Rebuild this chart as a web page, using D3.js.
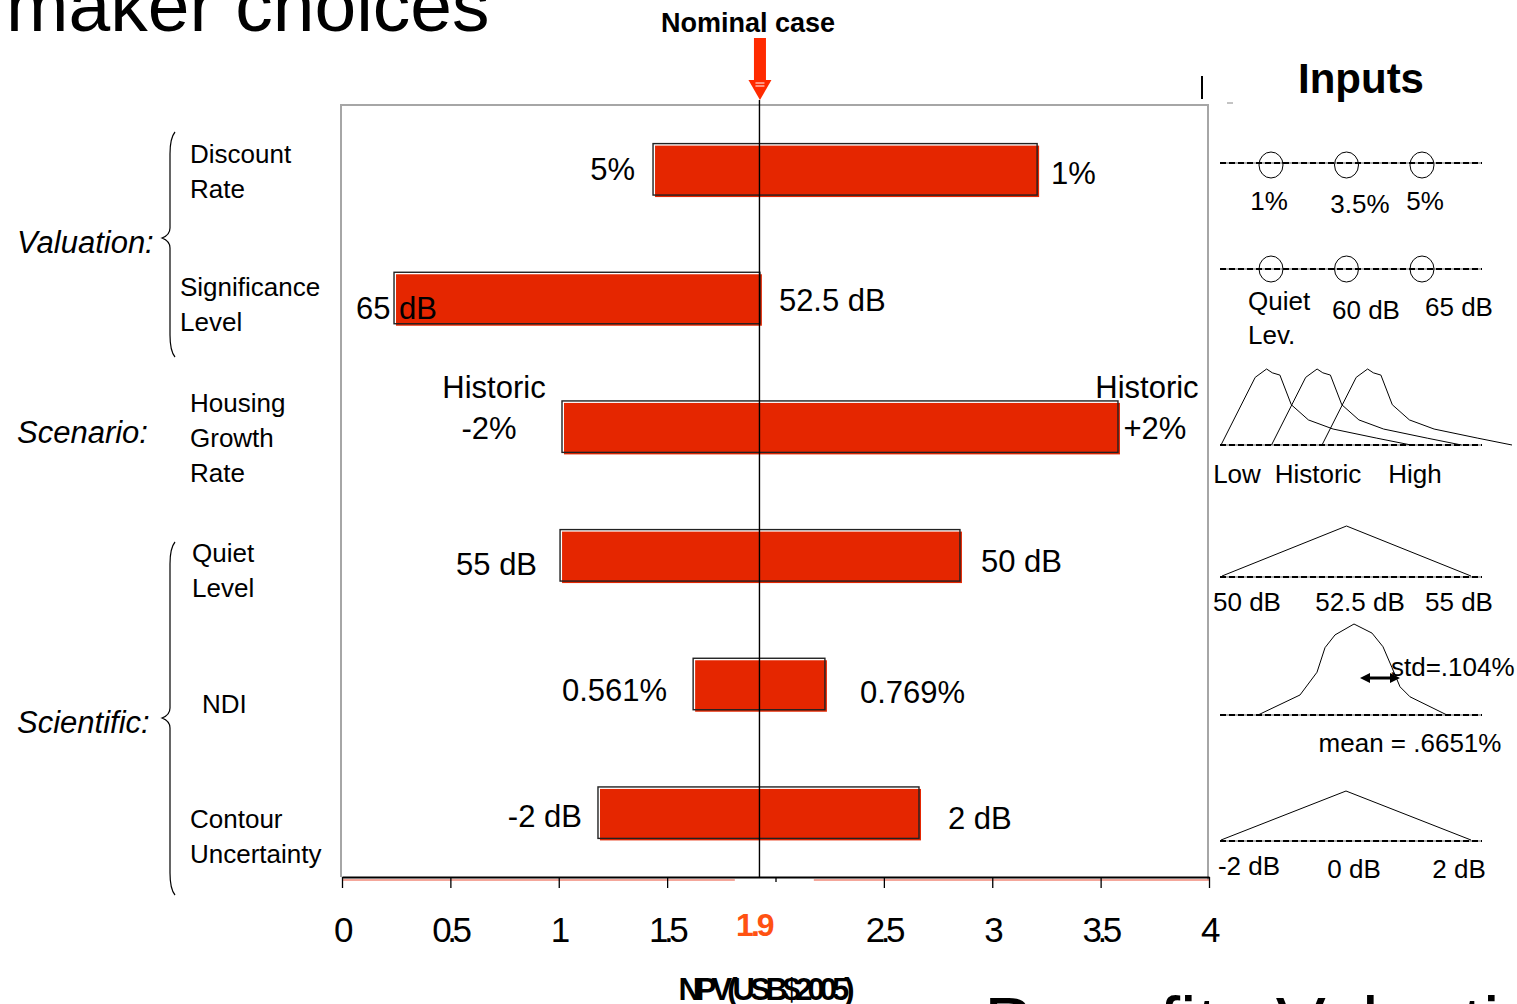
<!DOCTYPE html>
<html>
<head>
<meta charset="utf-8">
<script src="https://cdn.jsdelivr.net/npm/d3@7"></script>
<style>
  html, body { margin: 0; padding: 0; background: #fff; overflow: hidden; }
  svg { display: block; font-family: "Liberation Sans", Arial, Helvetica, sans-serif; }
</style>
</head>
<body>
<svg id="chart" width="1517" height="1004"></svg>
<script>
// ---------------- DATA ----------------
const categories = ["Discount Rate", "Significance Level", "Housing Growth Rate", "Quiet Level", "NDI", "Contour Uncertainty"];
const categoryLines = [["Discount", "Rate"], ["Significance", "Level"], ["Housing", "Growth", "Rate"], ["Quiet", "Level"], ["NDI"], ["Contour", "Uncertainty"]];
const groups = ["Valuation:", "Scenario:", "Scientific:"];
const groupMembers = [[0, 1], [2], [3, 4, 5]];
const lowValues  = [1.435, 0.240, 1.015, 1.006, 1.620, 1.181];
const highValues = [3.207, 1.928, 3.580, 2.851, 2.228, 2.662];
const lowLabels  = [["5%"], ["65 dB"], ["Historic", "-2%"], ["55 dB"], ["0.561%"], ["-2 dB"]];
const highLabels = [["1%"], ["52.5 dB"], ["Historic", "+2%"], ["50 dB"], ["0.769%"], ["2 dB"]];
const nominalValue = 1.926;
const nominalLabel = "1.9";
const nominalTick = 1.9;
const tickValues = [0, 0.5, 1, 1.5, 2, 2.5, 3, 3.5, 4];
const tickLabels = ["0", "0.5", "1", "1.5", "", "2.5", "3", "3.5", "4"];
const xTitle = "NPV(USB$2005)";

// Inputs panel
const discountInputs = ["1%", "3.5%", "5%"];
const significanceInputs = [["Quiet", "Lev."], ["60 dB"], ["65 dB"]];
const housingInputs = ["Low", "Historic", "High"];
// skewed density shape (fraction of support, relative density)
const housingDensity = [[0, 0], [0.18, 0.89], [0.24, 1], [0.27, 0.95], [0.31, 0.92], [0.37, 0.53], [0.46, 0.33], [0.59, 0.21], [0.82, 0.09], [1, 0]];
const quietInputs = [50, 52.5, 55];
const quietLabels = ["50 dB", "52.5 dB", "55 dB"];
const ndiMean = 0.6651, ndiStd = 0.104;
const ndiDensity = [[0.4155, 0], [0.5247, 0.22], [0.5689, 0.47], [0.5897, 0.74], [0.6157, 0.88], [0.6651, 1], [0.7119, 0.90], [0.7405, 0.75], [0.7639, 0.52], [0.7847, 0.31], [0.8107, 0.20], [0.9069, 0]];
const contourInputs = [-2, 0, 2];
const contourLabels = ["-2 dB", "0 dB", "2 dB"];

// ---------------- LAYOUT CONSTANTS ----------------
const FONT = '"Liberation Sans", Arial, Helvetica, sans-serif';
const BAR = "#e52600";
const ARROW = "#ff2a00";
const lowGap  = [18, -38, 68, 23, 26, 16];   // px between bar start and its label
const highGap = [14, 19, 32, 21, 35, 29];    // px between bar end and its label
const lowDy   = [11, 21, -29, 20, 17, 14];
const highDy  = [15, 13, -29, 17, 19, 16];
const labelX  = [190, 180, 190, 192, 202, 190];
const braceGeom = [[132, 238, 357], null, [542, 718, 895]]; // top, tip, bottom (px)

// ---------------- DRAW ----------------
const svg = d3.select("#chart");
const plot = { left: 342, right: 1209, top: 105, bottom: 877 };
const x = d3.scaleLinear().domain([0, 4]).range([plot.left, plot.right]);
const y = d3.scaleBand().domain(categories).range([plot.top, plot.bottom]).paddingInner(0.6).paddingOuter(0.3);
const yLab = d3.scaleBand().domain(categories).range([105, 903]);

// Slide title fragments
svg.append("text").attr("x", 6).attr("y", 31).attr("font-size", 75).attr("fill", "#000").text("maker choices");
svg.append("text").attr("x", 984).attr("y", 1049).attr("font-size", 75).attr("fill", "#000").text("Benefits Valuation: Noise");

// frame
svg.append("path")
  .attr("d", `M${plot.left - 1},${plot.bottom} V${plot.top} H${plot.right - 1} V${plot.bottom + 3}`)
  .attr("fill", "none").attr("stroke", "#a6a6a6").attr("stroke-width", 2);

// thin red line under axis
svg.append("line").attr("x1", plot.left).attr("x2", x(nominalTick) - 19).attr("y1", plot.bottom + 3).attr("y2", plot.bottom + 3)
  .attr("stroke", "#f08a7a").attr("stroke-width", 1.5);
svg.append("line").attr("x1", x(nominalTick) + 60).attr("x2", plot.right).attr("y1", plot.bottom + 3).attr("y2", plot.bottom + 3)
  .attr("stroke", "#f08a7a").attr("stroke-width", 1.5);

// bars
const rows = categories.map((c, i) => ({ c, i, lo: lowValues[i], hi: highValues[i] }));
const barG = svg.append("g");
barG.selectAll("rect.fill").data(rows).join("rect")
  .attr("class", "fill")
  .attr("x", d => x(d.lo) + 2).attr("y", d => y(d.c) + 2)
  .attr("width", d => x(d.hi) - x(d.lo)).attr("height", y.bandwidth())
  .attr("fill", BAR);
barG.selectAll("rect.edge").data(rows).join("rect")
  .attr("class", "edge")
  .attr("x", d => x(d.lo)).attr("y", d => y(d.c))
  .attr("width", d => x(d.hi) - x(d.lo)).attr("height", y.bandwidth())
  .attr("fill", "none").attr("stroke", "#222").attr("stroke-width", 1.4);

// nominal line
svg.append("line").attr("x1", x(nominalValue)).attr("x2", x(nominalValue))
  .attr("y1", 100).attr("y2", plot.bottom).attr("stroke", "#000").attr("stroke-width", 1.4);

// bar end labels
const LBL = 31;
rows.forEach(d => {
  const cy = y(d.c) + y.bandwidth() / 2;
  const lo = lowLabels[d.i], hi = highLabels[d.i];
  if (lo.length > 1) {
    lo.forEach((t, k) => svg.append("text").attr("x", x(d.lo) - lowGap[d.i] + (k ? -5 : 0)).attr("y", cy + lowDy[d.i] + k * 41)
      .attr("text-anchor", "middle").attr("font-size", LBL).text(t));
    hi.forEach((t, k) => svg.append("text").attr("x", x(d.hi) + highGap[d.i] + (k ? 5 : -3)).attr("y", cy + highDy[d.i] + k * 41)
      .attr("text-anchor", "middle").attr("font-size", LBL).text(t));
  } else {
    const inside = lowGap[d.i] < 0;
    svg.append("text")
      .attr("x", x(d.lo) - Math.abs(lowGap[d.i]))
      .attr("y", cy + lowDy[d.i])
      .attr("text-anchor", inside ? "start" : "end")
      .attr("font-size", LBL).text(lo[0]);
    svg.append("text").attr("x", x(d.hi) + highGap[d.i]).attr("y", cy + highDy[d.i])
      .attr("text-anchor", "start").attr("font-size", LBL).text(hi[0]);
  }
});

// x axis
const axis = d3.axisBottom(x).tickValues(tickValues).tickSize(11).tickSizeOuter(0)
  .tickFormat((d, i) => tickLabels[i]);
const ax = svg.append("g").attr("transform", `translate(0,${plot.bottom})`).call(axis);
ax.select(".domain").attr("stroke", "#000").attr("stroke-width", 2);
ax.selectAll(".tick line").attr("stroke", "#000").attr("stroke-width", 1.3);
ax.selectAll(".tick").filter(d => d === 2).select("line").attr("y2", 5);
ax.selectAll(".tick text").attr("y", 65).attr("dy", null).attr("dx", -1)
  .attr("font-family", FONT).attr("font-size", 35).attr("fill", "#000")
  .attr("letter-spacing", "-4.5px");
svg.append("text").attr("x", x(nominalTick)).attr("y", 936).attr("text-anchor", "middle")
  .attr("font-size", 32).attr("font-weight", "bold").attr("fill", "#ff5212")
  .attr("letter-spacing", "-3px").text(nominalLabel);
svg.append("text").attr("x", 764).attr("y", 1000).attr("text-anchor", "middle")
  .attr("font-size", 31).attr("font-weight", "bold").attr("letter-spacing", "-5px").text(xTitle);

// Nominal case annotation
svg.append("text").attr("x", 748).attr("y", 32).attr("text-anchor", "middle")
  .attr("font-size", 27).attr("font-weight", "bold").text("Nominal case");
const ax0 = x(nominalValue);
svg.append("rect").attr("x", ax0 - 5.5).attr("y", 38).attr("width", 12).attr("height", 42).attr("fill", ARROW);
svg.append("path").attr("d", `M${ax0 - 11},80 L${ax0 + 12},80 L${ax0 + 0.5},100 Z`).attr("fill", ARROW);
svg.append("line").attr("x1", ax0 - 4).attr("x2", ax0 + 5).attr("y1", 83).attr("y2", 83).attr("stroke", "#fff").attr("stroke-width", 1);
svg.append("line").attr("x1", ax0 - 4).attr("x2", ax0 + 5).attr("y1", 86).attr("y2", 86).attr("stroke", "#fff").attr("stroke-width", 1);
svg.append("line").attr("x1", 1202).attr("x2", 1202).attr("y1", 76).attr("y2", 99).attr("stroke", "#000").attr("stroke-width", 2);
svg.append("line").attr("x1", 1227).attr("x2", 1233).attr("y1", 103).attr("y2", 103).attr("stroke", "#888").attr("stroke-width", 1);

// category labels
categories.forEach((c, i) => {
  const lines = categoryLines[i];
  const cy = yLab(c) + yLab.bandwidth() / 2;
  lines.forEach((t, k) => {
    svg.append("text").attr("x", labelX[i]).attr("y", cy - (lines.length - 1) * 35 / 2 + 9 + k * 35)
      .attr("font-size", 26).text(t);
  });
});

// group labels and braces
function brace(xl, yTop, yMid, yBot) {
  return `M${xl + 5},${yTop} Q${xl},${yTop + 6} ${xl},${yTop + 22} L${xl},${yMid - 10}` +
    ` Q${xl},${yMid - 3} ${xl - 8},${yMid} Q${xl},${yMid + 3} ${xl},${yMid + 10}` +
    ` L${xl},${yBot - 22} Q${xl},${yBot - 6} ${xl + 5},${yBot}`;
}
groups.forEach((g, gi) => {
  const mem = groupMembers[gi];
  const top = yLab(categories[mem[0]]);
  const bot = yLab(categories[mem[mem.length - 1]]) + yLab.bandwidth();
  let mid = (top + bot) / 2;
  const bg = braceGeom[gi];
  if (bg) {
    mid = bg[1];
    svg.append("path").attr("d", brace(170, bg[0], bg[1], bg[2])).attr("fill", "none").attr("stroke", "#000").attr("stroke-width", 1.2);
  }
  svg.append("text").attr("x", 17).attr("y", mid + (bg ? 15 : 5)).attr("font-size", 31).attr("font-style", "italic").text(g);
});

// ---------------- INPUTS PANEL ----------------
svg.append("text").attr("x", 1361).attr("y", 93).attr("text-anchor", "middle")
  .attr("font-size", 42).attr("font-weight", "bold").text("Inputs");

const IN = 26;
function baseline(yb) {
  svg.append("line").attr("x1", 1220).attr("x2", 1482).attr("y1", yb).attr("y2", yb).attr("stroke", "#9a9a9a").attr("stroke-width", 1.5);
  svg.append("line").attr("x1", 1220).attr("x2", 1482).attr("y1", yb).attr("y2", yb).attr("stroke", "#000")
    .attr("stroke-width", 2).attr("stroke-dasharray", "6,3");
}
// discount
const dPos = d3.scalePoint().domain(discountInputs).range([1271, 1422]);
const dLab = d3.scalePoint().domain(discountInputs).range([1269, 1425]);
baseline(163);
svg.selectAll("ellipse.d").data(discountInputs).join("ellipse").attr("class", "d")
  .attr("cx", d => dPos(d)).attr("cy", 165).attr("rx", 12).attr("ry", 13).attr("fill", "none").attr("stroke", "#000").attr("stroke-width", 1);
svg.selectAll("text.dl").data(discountInputs).join("text").attr("class", "dl")
  .attr("x", (d, i) => dLab(d) + (i === 1 ? 13 : 0)).attr("y", (d, i) => i === 1 ? 213 : 210).attr("text-anchor", "middle").attr("font-size", IN).text(d => d);
// significance
const sKeys = significanceInputs.map(d => d[0]);
const sPos = d3.scalePoint().domain(sKeys).range([1271, 1422]);
const sLab = d3.scalePoint().domain(sKeys).range([1279, 1459]);
baseline(269);
svg.selectAll("ellipse.s").data(sKeys).join("ellipse").attr("class", "s")
  .attr("cx", d => sPos(d)).attr("cy", 269).attr("rx", 12).attr("ry", 13).attr("fill", "none").attr("stroke", "#000").attr("stroke-width", 1);
significanceInputs.forEach((lines, i) => {
  lines.forEach((t, k) => {
    svg.append("text").attr("x", lines.length > 1 ? sLab(sKeys[i]) - 31 : sLab(sKeys[i]) - (i === 1 ? 3 : 0))
      .attr("y", lines.length > 1 ? 310 + k * 34 : (i === 1 ? 319 : 316))
      .attr("text-anchor", lines.length > 1 ? "start" : "middle").attr("font-size", IN).text(t);
  });
});
// housing
baseline(445);
const hStart = d3.scalePoint().domain(housingInputs).range([1221, 1322]);
const hx = d3.scaleLinear().domain([0, 1]).range([0, 190]);
const hy = d3.scaleLinear().domain([0, 1]).range([445, 369]);
housingInputs.forEach(h => {
  svg.append("path").attr("d", d3.line().x(p => hStart(h) + hx(p[0])).y(p => hy(p[1]))(housingDensity))
    .attr("fill", "none").attr("stroke", "#000").attr("stroke-width", 1);
});
const hLab = d3.scalePoint().domain(housingInputs).range([1237, 1415]);
svg.selectAll("text.hl").data(housingInputs).join("text").attr("class", "hl")
  .attr("x", (d, i) => hLab(d) - (i === 1 ? 8 : 0)).attr("y", 483).attr("text-anchor", "middle").attr("font-size", IN).text(d => d);
// quiet level (triangular)
baseline(577);
const qx = d3.scaleLinear().domain([50, 55]).range([1222, 1471]);
const qy = d3.scaleLinear().domain([0, 1]).range([576, 526]);
svg.append("path").attr("d", d3.line().x(p => qx(p[0])).y(p => qy(p[1]))([[50, 0], [52.5, 1], [55, 0]]))
  .attr("fill", "none").attr("stroke", "#000").attr("stroke-width", 1);
const qLab = d3.scalePoint().domain(quietLabels).range([1247, 1459]);
svg.selectAll("text.ql").data(quietLabels).join("text").attr("class", "ql")
  .attr("x", (d, i) => qLab(d) + (i === 1 ? 7 : 0)).attr("y", 611).attr("text-anchor", "middle").attr("font-size", IN).text(d => d);
// NDI (normal)
baseline(715);
const nx = d3.scaleLinear().domain([ndiMean, ndiMean + ndiStd]).range([1354, 1394]);
const ny = d3.scaleLinear().domain([0, 1]).range([715, 624]);
svg.append("path").attr("d", d3.line().x(p => nx(p[0])).y(p => ny(p[1]))(ndiDensity))
  .attr("fill", "none").attr("stroke", "#000").attr("stroke-width", 1);
const aL = nx(ndiMean) + 6, aR = nx(ndiMean + ndiStd) + 6, aY = 678;
svg.append("line").attr("x1", aL + 6).attr("x2", aR - 6).attr("y1", aY).attr("y2", aY).attr("stroke", "#000").attr("stroke-width", 3);
svg.append("path").attr("d", `M${aL},${aY} L${aL + 10},${aY - 5} L${aL + 10},${aY + 5} Z`).attr("fill", "#000");
svg.append("path").attr("d", `M${aR},${aY} L${aR - 10},${aY - 5} L${aR - 10},${aY + 5} Z`).attr("fill", "#000");
svg.append("text").attr("x", 1391).attr("y", 676).attr("font-size", IN).text("std=.104%");
svg.append("text").attr("x", 1410).attr("y", 752).attr("text-anchor", "middle").attr("font-size", IN).text("mean = .6651%");
// contour (triangular)
baseline(841);
const cx = d3.scaleLinear().domain([-2, 2]).range([1221, 1471]);
const cyS = d3.scaleLinear().domain([0, 1]).range([840, 791]);
svg.append("path").attr("d", d3.line().x(p => cx(p[0])).y(p => cyS(p[1]))([[-2, 0], [0, 1], [2, 0]]))
  .attr("fill", "none").attr("stroke", "#000").attr("stroke-width", 1);
const cLab = d3.scalePoint().domain(contourLabels).range([1249, 1459]);
svg.selectAll("text.cl").data(contourLabels).join("text").attr("class", "cl")
  .attr("x", d => cLab(d)).attr("y", (d, i) => i === 0 ? 875 : 878).attr("text-anchor", "middle").attr("font-size", IN).text(d => d);
</script>
</body>
</html>
